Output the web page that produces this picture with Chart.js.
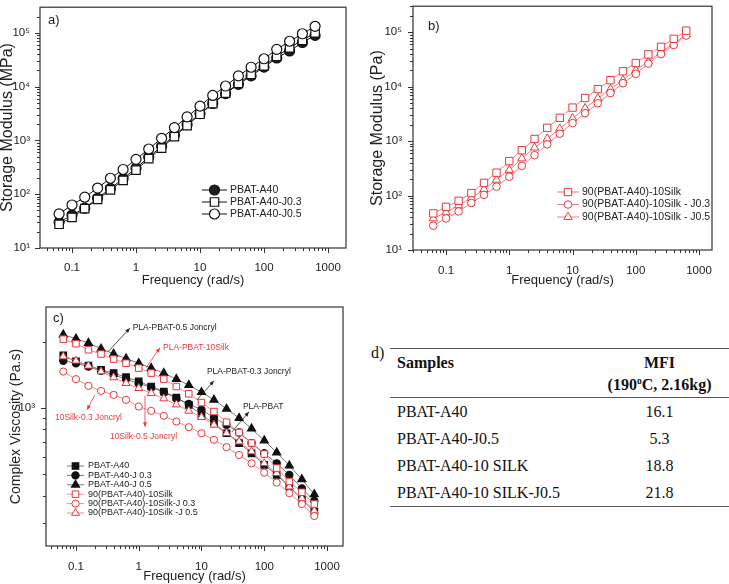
<!DOCTYPE html>
<html>
<head>
<meta charset="utf-8">
<script src="https://cdn.jsdelivr.net/npm/chart.js@4.4.1/dist/chart.umd.min.js"></script>
<style>
  html, body { margin: 0; padding: 0; background: #fff; }
  body { width: 729px; height: 584px; position: relative; overflow: hidden; }
  canvas { position: absolute; }
  #tagD { position: absolute; left: 371px; top: 344px; font: 16px 'Liberation Serif', 'Times New Roman', serif; color: #111; }
  #mfiTable { position: absolute; left: 390px; top: 348px; width: 339px; border-collapse: collapse;
    font: 16px 'Liberation Serif', 'Times New Roman', serif; color: #111;
    border-top: 1.5px solid #555; border-bottom: 1.5px solid #555; }
  #mfiTable th { font-weight: bold; vertical-align: top; padding: 3px 0 0 0; height: 45px; line-height: 22px;
    border-bottom: 1.5px solid #555; }
  #mfiTable td { height: 27px; padding: 0; line-height: 27px; }
  #mfiTable .c1 { text-align: left; padding-left: 7px; width: 193px; }
  #mfiTable .c2 { text-align: center; }
  #mfiTable sup { font-size: 0.6em; line-height: 0; }
</style>
</head>
<body>
<canvas id="chartA" width="365" height="300" style="left:0;top:0"></canvas>
<canvas id="chartB" width="364" height="300" style="left:365px;top:0"></canvas>
<canvas id="chartC" width="365" height="284" style="left:0;top:300px"></canvas>
<div id="tagD">d)</div>
<table id="mfiTable"></table>
<script>
// frequency sweep points (rad/s)
const freq = [0.0628, 0.1, 0.158, 0.251, 0.398, 0.628, 1, 1.58, 2.51, 3.98, 6.28,
              10, 15.8, 25.1, 39.8, 62.8, 100, 158, 251, 398, 628];

// a) storage modulus
const aPbatA40 = [30, 41, 55, 84, 128, 195, 305, 490, 775, 1240, 1970, 3150, 4850, 7400, 11000, 15800, 23000, 34000, 46000, 66000, 89500];
const aPbatJ03 = [27.6, 37, 54, 80, 120, 180, 281, 457, 721, 1170, 1880, 3060, 4840, 7550, 11450, 16900, 24300, 36300, 52700, 72500, 100000];
const aPbatJ05 = [43, 63, 88, 130, 198, 288, 444, 692, 1094, 1730, 2735, 4330, 6850, 10250, 15800, 22900, 32900, 49200, 69600, 95900, 132000];

// b) storage modulus, silk blends
const bSilk = [47, 62, 80, 111, 171, 263, 430, 681, 1096, 1760, 2680, 4130, 6200, 9040, 13180, 19200, 27200, 39200, 54000, 75700, 107000];
const bSilkJ03 = [28, 38, 51, 73, 103, 146, 222, 352, 552, 872, 1370, 2140, 3260, 4960, 7640, 11600, 17200, 26500, 39700, 58000, 87000];
const bSilkJ05 = [38, 49, 66, 90, 131, 194, 295, 480, 760, 1110, 1690, 2630, 4020, 6110, 9040, 13200, 20100, 28800, 43200, 62200, 90700];

// c) complex viscosity
const cPbatA40 = [1730, 1625, 1557, 1488, 1438, 1378, 1318, 1250, 1186, 1114, 1032, 929, 851, 767, 692, 622, 551, 496, 439, 384, 338];
const cPbatJ03 = [1636, 1595, 1540, 1472, 1412, 1350, 1290, 1240, 1178, 1106, 1042, 980, 904, 837, 773, 692, 622, 560, 496, 431, 378];
const cPbatJ05 = [2150, 2060, 1970, 1855, 1760, 1675, 1595, 1515, 1438, 1350, 1268, 1178, 1087, 990, 898, 805, 711, 627, 547, 474, 405];
const cSilk = [2050, 1955, 1835, 1755, 1665, 1595, 1515, 1438, 1350, 1250, 1158, 1057, 962, 861, 773, 692, 617, 533, 463, 414, 366];
const cSilkJ03 = [1462, 1350, 1259, 1194, 1146, 1087, 1014, 969, 920, 867, 817, 767, 716, 663, 611, 560, 508, 458, 410, 366, 323];
const cSilkJ05 = [1710, 1636, 1552, 1462, 1374, 1294, 1228, 1166, 1102, 1035, 969, 907, 837, 767, 703, 634, 560, 505, 439, 388, 341];

// tick labels
const freqTicks = [0.1, 1, 10, 100, 1000];
const modulusTicks = [10, 100, 1000, 10000, 100000];
const viscTicks = [1000];

// d) table
const samples = ['PBAT-A40', 'PBAT-A40-J0.5', 'PBAT-A40-10 SILK', 'PBAT-A40-10 SILK-J0.5'];
const mfi = ['16.1', '5.3', '18.8', '21.8'];

const SANS = "'Liberation Sans', Arial, Helvetica, sans-serif";
const INK = '#222';
const RED = '#e8383d';
const SUP = {'0': '\u2070', '1': '\u00b9', '2': '\u00b2', '3': '\u00b3', '4': '\u2074', '5': '\u2075'};

function pow10Label(v) {
    const e = String(Math.round(Math.log10(v)));
    return '10' + e.split('').map(c => SUP[c]).join('');
}

// all 1..9 x 10^n positions inside a range, flagged major when k == 1
function logTickMarks(min, max) {
    const out = [];
    for (let e = Math.floor(Math.log10(min)); e <= Math.ceil(Math.log10(max)); e++) {
        for (let k = 1; k <= 9; k++) {
            const v = k * Math.pow(10, e);
            if (v >= min && v <= max) out.push({ v: v, major: k === 1 });
        }
    }
    return out;
}

function series(label, values, shape, o) {
    return {
        label: label,
        data: freq.map((f, i) => ({ x: f, y: values[i] })),
        pointStyle: shape,
        pointRadius: o.r,
        pointBorderWidth: o.bw || 1.2,
        pointBorderColor: o.color,
        pointBackgroundColor: o.fill,
        borderColor: o.line || o.color,
        borderWidth: o.lw || 1,
        order: o.order || 0,
        tension: 0
    };
}

// no automatic label padding, the plot box is placed by hand
function fixBox(s) {
    s.paddingLeft = 0;
    s.paddingRight = 0;
    s.paddingTop = 0;
    s.paddingBottom = 0;
}

// Origin-like box, outward ticks, in-plot legend, panel tag and arrows
const originFrame = {
    id: 'originFrame',
    afterDraw: function(chart, args, opts) {
        const ctx = chart.ctx;
        const a = chart.chartArea;
        const xs = chart.scales.x, ys = chart.scales.y;
        ctx.save();
        ctx.strokeStyle = '#333';
        ctx.lineWidth = 1.2;
        ctx.strokeRect(a.left, a.top, a.right - a.left, a.bottom - a.top);

        ctx.beginPath();
        ctx.lineWidth = 1;
        logTickMarks(xs.min, xs.max).forEach(function(t) {
            const px = Math.round(xs.getPixelForValue(t.v)) + 0.5;
            ctx.moveTo(px, a.bottom);
            ctx.lineTo(px, a.bottom + (t.major ? 5 : 3));
        });
        logTickMarks(ys.min, ys.max).forEach(function(t) {
            const py = Math.round(ys.getPixelForValue(t.v)) + 0.5;
            ctx.moveTo(a.left, py);
            ctx.lineTo(a.left - (t.major ? 5 : 3), py);
        });
        ctx.stroke();

        // panel tag
        ctx.fillStyle = INK;
        ctx.font = '13px ' + SANS;
        ctx.textBaseline = 'middle';
        ctx.textAlign = 'left';
        ctx.fillText(opts.tag, a.left + opts.tagDx, a.top + opts.tagDy);

        // legend
        const lg = opts.legend;
        ctx.font = lg.size + 'px ' + SANS;
        lg.items.forEach(function(item, i) {
            const ds = chart.data.datasets[item.ds];
            const y = lg.y + i * lg.dy;
            ctx.strokeStyle = ds.borderColor;
            ctx.lineWidth = ds.borderWidth;
            ctx.beginPath();
            ctx.moveTo(lg.x, y);
            ctx.lineTo(lg.x + lg.len, y);
            ctx.stroke();
            ctx.fillStyle = ds.pointBackgroundColor;
            ctx.strokeStyle = ds.pointBorderColor;
            ctx.lineWidth = ds.pointBorderWidth;
            Chart.helpers.drawPoint(ctx, { pointStyle: ds.pointStyle, radius: ds.pointRadius, rotation: 0, borderWidth: ds.pointBorderWidth }, lg.x + lg.len / 2, y);
            ctx.fillStyle = item.color || INK;
            ctx.fillText(ds.label, lg.x + lg.len + lg.gap, y);
        });

        // arrows with labels (data coordinates)
        (opts.notes || []).forEach(function(n) {
            const tx = xs.getPixelForValue(n.tail[0]), ty = ys.getPixelForValue(n.tail[1]);
            const hx = xs.getPixelForValue(n.head[0]), hy = ys.getPixelForValue(n.head[1]);
            ctx.strokeStyle = n.color;
            ctx.fillStyle = n.color;
            ctx.lineWidth = 0.8;
            ctx.beginPath();
            ctx.moveTo(tx, ty);
            ctx.lineTo(hx, hy);
            ctx.stroke();
            const ang = Math.atan2(hy - ty, hx - tx);
            ctx.beginPath();
            ctx.moveTo(hx, hy);
            ctx.lineTo(hx - 5 * Math.cos(ang - 0.4), hy - 5 * Math.sin(ang - 0.4));
            ctx.lineTo(hx - 5 * Math.cos(ang + 0.4), hy - 5 * Math.sin(ang + 0.4));
            ctx.closePath();
            ctx.fill();
            ctx.font = '8.5px ' + SANS;
            ctx.fillText(n.text, xs.getPixelForValue(n.at[0]), ys.getPixelForValue(n.at[1]));
        });
        ctx.restore();
    }
};

function makePanel(canvasId, p) {
    return new Chart(document.getElementById(canvasId), {
        type: 'line',
        data: { datasets: p.datasets },
        options: {
            responsive: false,
            animation: false,
            devicePixelRatio: 1,
            layout: { padding: { top: p.padTop, right: p.padRight, left: 0, bottom: 0 } },
            plugins: { legend: { display: false }, tooltip: { enabled: false }, originFrame: p.frame },
            scales: {
                x: {
                    type: 'logarithmic', min: p.x.min, max: p.x.max,
                    afterFit: function(s) { s.height = p.x.size; fixBox(s); },
                    afterBuildTicks: function(s) { s.ticks = freqTicks.map(v => ({ value: v })); },
                    grid: { display: false }, border: { display: false },
                    ticks: { font: { family: SANS, size: 11.5 }, color: INK, padding: p.x.pad, maxRotation: 0, autoSkip: false,
                             callback: v => String(v) },
                    title: { display: true, text: 'Frequency (rad/s)', color: INK, font: { family: SANS, size: 13 },
                             padding: { top: 0, bottom: p.x.titlePad } }
                },
                y: {
                    type: 'logarithmic', min: p.y.min, max: p.y.max,
                    afterFit: function(s) { s.width = p.y.size; fixBox(s); },
                    afterBuildTicks: function(s) { s.ticks = p.y.ticks.map(v => ({ value: v })); },
                    grid: { display: false }, border: { display: false },
                    ticks: { font: { family: SANS, size: 11.5 }, color: INK, padding: p.y.pad, autoSkip: false,
                             callback: v => pow10Label(v) },
                    title: { display: true, text: p.y.title, color: INK, font: { family: SANS, size: p.y.titleSize, lineHeight: 1 },
                             padding: { top: p.y.titlePad, bottom: 0 } }
                }
            }
        },
        plugins: [originFrame]
    });
}

// a)
makePanel('chartA', {
    padTop: 1, padRight: 19,
    x: { min: 0.0316, max: 1910, size: 52, pad: 5, titlePad: 12 },
    y: { min: 10, max: 299000, size: 40, pad: 2, ticks: modulusTicks, title: 'Storage Modulus (MPa)', titleSize: 16, titlePad: 0 },
    datasets: [
        series('PBAT-A40', aPbatA40, 'circle', { r: 5, color: '#111', fill: '#1e1e1e', order: 2 }),
        series('PBAT-A40-J0.3', aPbatJ03, 'rect', { r: 6, color: '#111', fill: '#fff', order: 1 }),
        series('PBAT-A40-J0.5', aPbatJ05, 'circle', { r: 5, color: '#111', fill: '#fff', order: 0 })
    ],
    frame: {
        tag: 'a)', tagDx: 8, tagDy: 13,
        legend: { x: 202, y: 190, dy: 12, len: 25, gap: 3, size: 10.5, items: [{ ds: 0 }, { ds: 1 }, { ds: 2 }] }
    }
});

// b)
makePanel('chartB', {
    padTop: 3, padRight: 17,
    x: { min: 0.030, max: 1605, size: 50, pad: 6, titlePad: 12 },
    y: { min: 10, max: 301000, size: 48, pad: 3, ticks: modulusTicks, title: 'Storage Modulus (Pa)', titleSize: 16, titlePad: 5 },
    datasets: [
        series('90(PBAT-A40)-10Silk', bSilk, 'rect', { r: 5.2, color: RED, fill: '#fff', line: 'rgba(232,56,61,0.65)', bw: 1 }),
        series('90(PBAT-A40)-10Silk - J0.3', bSilkJ03, 'circle', { r: 3.8, color: RED, fill: '#fff', line: 'rgba(232,56,61,0.65)', bw: 1 }),
        series('90(PBAT-A40)-10Silk - J0.5', bSilkJ05, 'triangle', { r: 4.8, color: RED, fill: '#fff', line: 'rgba(232,56,61,0.65)', bw: 1 })
    ],
    frame: {
        tag: 'b)', tagDx: 15, tagDy: 20,
        legend: { x: 192, y: 192, dy: 12.5, len: 22, gap: 3, size: 10.5, items: [{ ds: 0 }, { ds: 1 }, { ds: 2 }] }
    }
});

// c)
makePanel('chartC', {
    padTop: 7, padRight: 22,
    x: { min: 0.0333, max: 1800, size: 38, pad: 6, titlePad: 0 },
    y: { min: 236, max: 2870, size: 46, pad: 3, ticks: viscTicks, title: 'Complex Viscosity (Pa.s)', titleSize: 14, titlePad: 9 },
    datasets: [
        series('PBAT-A40', cPbatA40, 'rect', { r: 4.6, color: '#111', fill: '#111', line: '#555', lw: 0.8, order: 3 }),
        series('PBAT-A40-J 0.3', cPbatJ03, 'circle', { r: 3.6, color: '#111', fill: '#111', line: '#555', lw: 0.8, order: 4 }),
        series('PBAT-A40-J 0.5', cPbatJ05, 'triangle', { r: 4.6, color: '#111', fill: '#111', line: '#555', lw: 0.8, order: 2 }),
        series('90(PBAT-A40)-10Silk', cSilk, 'rect', { r: 4.6, color: RED, fill: '#fff', line: '#f06a6a', lw: 0.8, bw: 1, order: 1 }),
        series('90(PBAT-A40)-10Silk-J 0.3', cSilkJ03, 'circle', { r: 3.6, color: RED, fill: '#fff', line: '#f06a6a', lw: 0.8, bw: 1, order: 0 }),
        series('90(PBAT-A40)-10Silk -J 0.5', cSilkJ05, 'triangle', { r: 4.6, color: RED, fill: '#fff', line: '#f06a6a', lw: 0.8, bw: 1, order: 1 })
    ],
    frame: {
        tag: 'c)', tagDx: 7, tagDy: 11,
        legend: { x: 67, y: 166, dy: 9.4, len: 17, gap: 4, size: 9, items: [
            { ds: 0 }, { ds: 1 }, { ds: 2 }, { ds: 3 }, { ds: 4 }, { ds: 5 }] },
        notes: [
            { text: 'PLA-PBAT-0.5 Joncryl', color: '#222', tail: [0.324, 1797], head: [0.72, 2300], at: [0.8, 2310] },
            { text: 'PLA-PBAT-10Silk', color: RED, tail: [1.305, 1520], head: [2.18, 1874], at: [2.44, 1874] },
            { text: 'PLA-PBAT-0.3 Joncryl', color: '#222', tail: [8.47, 1087], head: [15.8, 1327], at: [12.2, 1458] },
            { text: 'PLA-PBAT', color: '#222', tail: [30.6, 778], head: [57.1, 959], at: [45.8, 1010] },
            { text: '10Silk-0.3 Joncryl', color: RED, tail: [0.201, 1146], head: [0.15, 980], at: [0.0462, 901] },
            { text: '10Silk-0.5 Joncryl', color: RED, tail: [1.258, 1134], head: [1.258, 820], at: [0.348, 738] }
        ]
    }
});

// d) table
const table = document.getElementById('mfiTable');
let html = '<tr><th class="c1">Samples</th><th class="c2">MFI<br>(190<sup>o</sup>C, 2.16kg)</th></tr>';
samples.forEach(function(s, i) {
    html += '<tr><td class="c1">' + s + '</td><td class="c2">' + mfi[i] + '</td></tr>';
});
table.innerHTML = html;
</script>
</body>
</html>
